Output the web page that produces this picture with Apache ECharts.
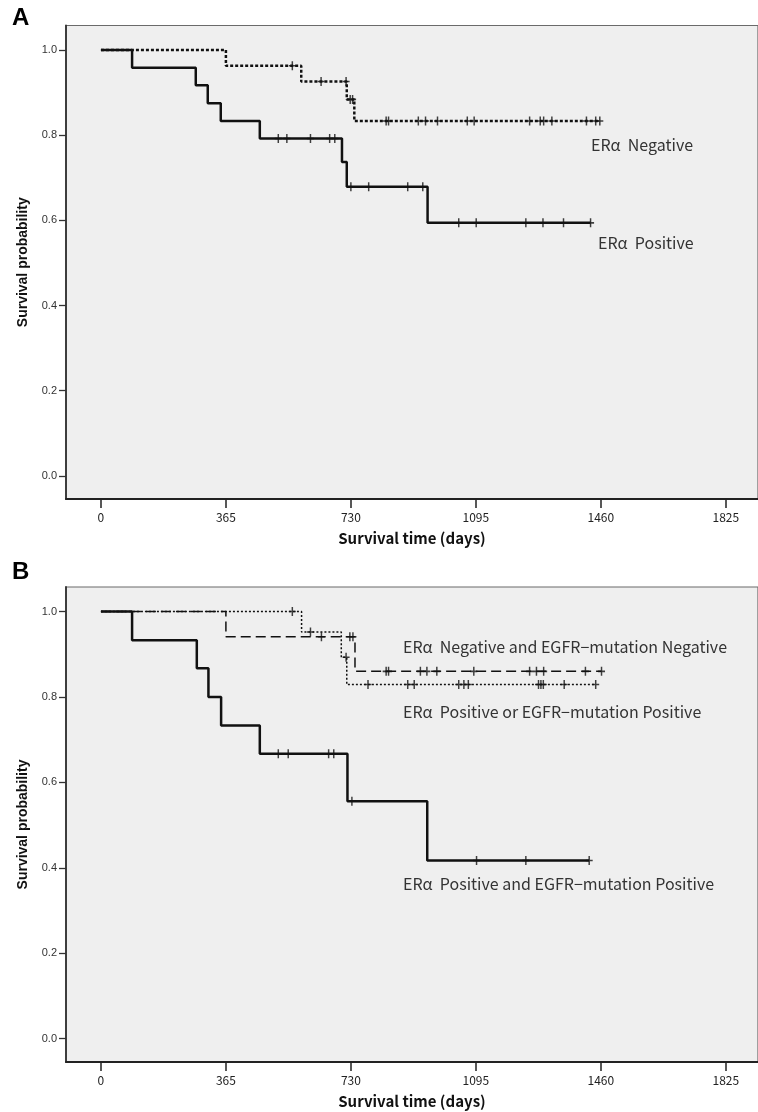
<!DOCTYPE html>
<html><head><meta charset="utf-8">
<script src="https://cdn.jsdelivr.net/npm/echarts@6/dist/echarts.min.js"></script>
<style>html,body{margin:0;padding:0;background:#fff}#c{width:758px;height:1112px}</style>
</head><body><div id="c"></div>
<script>
// Axis ticks
const xTicks = [0, 365, 730, 1095, 1460, 1825];
const yTicks = [0, 0.2, 0.4, 0.6, 0.8, 1.0];

// Panel A: ERα Negative (dotted)
const aNegTimes = [0, 365, 585, 718, 740, 1458];
const aNegSurv  = [1.0, 0.963, 0.926, 0.884, 0.833, 0.833];
const aNegCens  = [559, 643, 716, 728, 735, 833, 840, 927, 948, 983, 1070, 1090, 1252, 1283, 1293, 1317, 1418, 1445, 1457];
// Panel A: ERα Positive (solid)
const aPosTimes = [0, 91, 277, 312, 350, 464, 704, 718, 954, 1430];
const aPosSurv  = [1.0, 0.958, 0.917, 0.875, 0.833, 0.792, 0.737, 0.679, 0.594, 0.594];
const aPosCens  = [518, 543, 612, 668, 683, 730, 782, 896, 940, 1045, 1096, 1241, 1291, 1351, 1430];

// Panel B: ERα Negative and EGFR-mutation Negative (long dash)
const bNNTimes = [0, 365, 742, 1462];
const bNNSurv  = [1.0, 0.941, 0.860, 0.860];
const bNNCens  = [644, 727, 736, 833, 840, 933, 952, 981, 1089, 1252, 1272, 1293, 1415, 1462];
// Panel B: ERα Positive or EGFR-mutation Positive (dotted)
const bPOTimes = [0, 586, 702, 718, 1445];
const bPOSurv  = [1.0, 0.952, 0.893, 0.829, 0.829];
const bPOCens  = [559, 612, 716, 780, 896, 915, 1045, 1060, 1073, 1278, 1285, 1292, 1353, 1445];
// Panel B: ERα Positive and EGFR-mutation Positive (solid)
const bPPTimes = [0, 91, 280, 314, 351, 464, 720, 953, 1426];
const bPPSurv  = [1.0, 0.933, 0.867, 0.800, 0.733, 0.667, 0.556, 0.417, 0.417];
const bPPCens  = [518, 547, 665, 680, 733, 1097, 1241, 1426];

function survAt(times, surv, t) { let v = surv[0]; for (let i = 0; i < times.length; i++) { if (times[i] <= t) v = surv[i]; } return v; }
function curve(times, surv) { return times.map((t, i) => [t, surv[i]]); }
function cens(times, surv, cts) { return cts.map(t => [t, survAt(times, surv, t)]); }

const plus = 'path://M39.5,0 H60.5 V41.5 H100 V58.5 H60.5 V100 H39.5 V58.5 H0 V41.5 H39.5 Z';
const labFont = '"Noto Sans CJK JP", "Noto Sans", sans-serif';

function makeGrid(top, height) {
  return { left: 66, top: top, width: 700, height: height, show: true, backgroundColor: '#efefef', borderColor: '#6a6a6a', borderWidth: 1.2 };
}
function makeX(i) {
  return {
    type: 'value', gridIndex: i, min: -102, max: 1919,
    axisLine: { show: true, onZero: false, lineStyle: { color: '#222', width: 2 } },
    axisTick: { show: true, customValues: xTicks, length: 9, lineStyle: { color: '#222', width: 1.5 } },
    axisLabel: { show: true, customValues: xTicks, margin: 12, fontFamily: labFont, fontSize: 12, color: '#222', formatter: v => String(v) },
    splitLine: { show: false },
    name: 'Survival time (days)', nameLocation: 'middle', nameGap: 32,
    nameTextStyle: { fontFamily: labFont, fontWeight: 'bold', fontSize: 15, color: '#111' }
  };
}
function makeY(i) {
  return {
    type: 'value', gridIndex: i, min: -0.0545, max: 1.0575,
    axisLine: { show: true, onZero: false, lineStyle: { color: '#333', width: 1.8 } },
    axisTick: { show: true, customValues: yTicks, length: 7, lineStyle: { color: '#333', width: 1.3 } },
    axisLabel: { show: true, customValues: yTicks, margin: 9, fontFamily: 'Liberation Sans, Arial', fontSize: 11, color: '#333', formatter: v => v.toFixed(1) },
    splitLine: { show: false },
    name: 'Survival probability', nameLocation: 'middle', nameRotate: 90, nameGap: 36,
    nameTextStyle: { fontFamily: 'Liberation Sans, Arial', fontWeight: 'bold', fontSize: 14, color: '#111' }
  };
}
function lineS(i, data, type, width, z) {
  return { type: 'line', xAxisIndex: i, yAxisIndex: i, data: data, step: 'end', symbol: 'none', silent: true, z: z,
    lineStyle: { color: '#111', width: width, type: type }, animation: false };
}
function censS(i, data, z) {
  return { type: 'scatter', xAxisIndex: i, yAxisIndex: i, data: data, symbol: plus, symbolSize: [7, 9], silent: true, z: z,
    itemStyle: { color: '#111' }, animation: false };
}
function txt(x, y, s) {
  return { type: 'text', x: x, y: y, style: { text: s, font: '16px ' + labFont, fill: '#333', verticalAlign: 'middle' } };
}

const chart = echarts.init(document.getElementById('c'), null, { renderer: 'canvas' });
chart.setOption({
  animation: false,
  grid: [makeGrid(25.5, 473.5), makeGrid(587, 475)],
  xAxis: [makeX(0), makeX(1)],
  yAxis: [makeY(0), makeY(1)],
  series: [
    lineS(0, curve(aNegTimes, aNegSurv), [3, 2], 2.5, 3),
    censS(0, cens(aNegTimes, aNegSurv, aNegCens), 4),
    lineS(0, curve(aPosTimes, aPosSurv), 'solid', 2.5, 5),
    censS(0, cens(aPosTimes, aPosSurv, aPosCens), 6),
    lineS(1, curve(bNNTimes, bNNSurv), [10, 5], 1.5, 3),
    censS(1, cens(bNNTimes, bNNSurv, bNNCens), 4),
    lineS(1, curve(bPOTimes, bPOSurv), [2, 2], 1.5, 3),
    censS(1, cens(bPOTimes, bPOSurv, bPOCens), 4),
    lineS(1, curve(bPPTimes, bPPSurv), 'solid', 2.5, 5),
    censS(1, cens(bPPTimes, bPPSurv, bPPCens), 6)
  ],
  graphic: [
    { type: 'text', x: 12, y: 6, style: { text: 'A', font: 'bold 24px "Liberation Sans", Arial', fill: '#000' } },
    { type: 'text', x: 12, y: 560, style: { text: 'B', font: 'bold 24px "Liberation Sans", Arial', fill: '#000' } },
    txt(591, 145, 'ERα  Negative'),
    txt(598, 243, 'ERα  Positive'),
    txt(403, 647, 'ERα  Negative and EGFR−mutation Negative'),
    txt(403, 712, 'ERα  Positive or EGFR−mutation Positive'),
    txt(403, 884, 'ERα  Positive and EGFR−mutation Positive')
  ]
});
</script></body></html>
